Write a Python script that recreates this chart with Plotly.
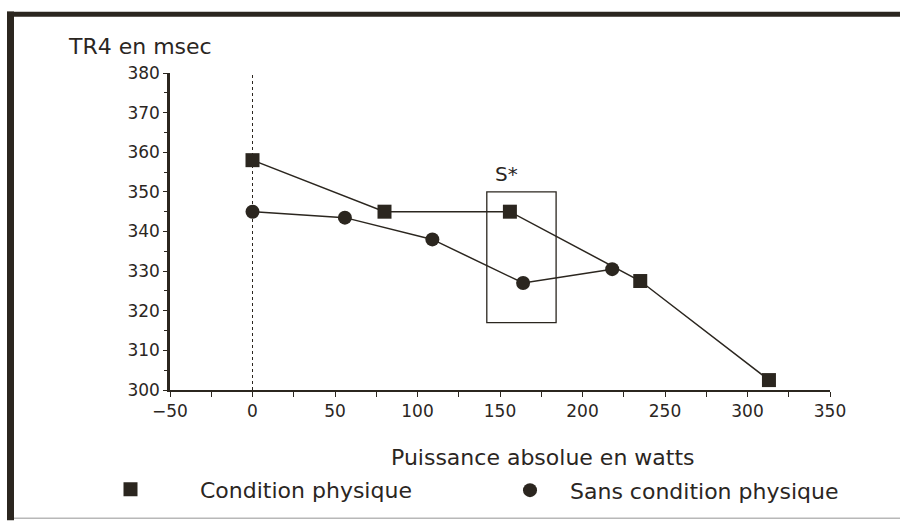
import plotly.graph_objects as go

# Data
cond_x = [0, 80, 156, 235, 313]
cond_y = [358, 345, 345, 327.5, 302.5]
sans_x = [0, 56, 109, 164, 218]
sans_y = [345, 343.5, 338, 327, 330.5]

cond_name = "Condition physique"
sans_name = "Sans condition physique"
x_title = "Puissance absolue en watts"
y_title = "TR4 en msec"
box_label = "S*"
box_x = [142, 184]
box_y = [317, 350]

INK = "#2b261f"
FONT = "DejaVu Sans"

# pixel geometry helpers
W, H = 900, 523
L, R, T, B = 170, 70, 73, 131
PW, PH = W - L - R, H - T - B


def px(xp):
    return (xp - L) / PW


def py(yp):
    return (H - B - yp) / PH


fig = go.Figure()
# connecting lines
for xs, ys in ((cond_x, cond_y), (sans_x, sans_y)):
    fig.add_trace(go.Scatter(
        x=xs, y=ys, mode="lines", line=dict(color=INK, width=1.5),
        showlegend=False, hoverinfo="skip", cliponaxis=False,
    ))
# markers (legend entries)
fig.add_trace(go.Scatter(
    x=cond_x, y=cond_y, name=cond_name, mode="markers",
    marker=dict(symbol="square", size=14, color=INK),
    cliponaxis=False, legend="legend", showlegend=True,
))
fig.add_trace(go.Scatter(
    x=sans_x, y=sans_y, name=sans_name, mode="markers",
    marker=dict(symbol="circle", size=14, color=INK),
    cliponaxis=False, legend="legend2", showlegend=True,
))

shapes = [
    dict(type="line", xref="x", yref="y", x0=0, x1=0, y0=300, y1=380,
         line=dict(color=INK, width=1, dash="dot"), layer="below"),
    dict(type="rect", xref="x", yref="y", x0=box_x[0], x1=box_x[1],
         y0=box_y[0], y1=box_y[1], line=dict(color=INK, width=1.3)),
    dict(type="line", xref="paper", yref="paper", x0=px(10.5), x1=px(10.5),
         y0=py(11), y1=py(523), line=dict(color=INK, width=7)),
    dict(type="line", xref="paper", yref="paper", x0=px(7), x1=px(900),
         y0=py(14), y1=py(14), line=dict(color=INK, width=5)),
    dict(type="line", xref="paper", yref="paper", x0=px(14), x1=px(900),
         y0=py(521), y1=py(521), line=dict(color="#b8b8b8", width=1.5)),
]

annotations = [
    dict(text=y_title, xref="paper", yref="paper", x=px(66), y=py(46),
         xanchor="left", yanchor="middle", showarrow=False,
         font=dict(family=FONT, size=22, color=INK)),
    dict(text=x_title, xref="paper", yref="paper", x=px(543), y=py(460),
         xanchor="center", yanchor="middle", showarrow=False,
         font=dict(family=FONT, size=22, color=INK)),
    dict(text=box_label, xref="x", yref="y", x=sum(box_x) / 2 - 9, y=box_y[1] + 1,
         xanchor="center", yanchor="bottom", showarrow=False,
         font=dict(family=FONT, size=20, color=INK)),
]

fig.update_layout(
    width=W, height=H,
    margin=dict(l=L, r=R, t=T, b=B, pad=0),
    paper_bgcolor="white", plot_bgcolor="white",
    font=dict(family=FONT, color=INK),
    showlegend=True,
    shapes=shapes, annotations=annotations,
    legend=dict(orientation="h", x=px(61), y=py(492), xanchor="left", yanchor="middle",
                bgcolor="rgba(0,0,0,0)", itemwidth=129,
                font=dict(family=FONT, size=22, color=INK)),
    legend2=dict(orientation="h", x=px(490), y=py(493), xanchor="left", yanchor="middle",
                 bgcolor="rgba(0,0,0,0)", itemwidth=70,
                 font=dict(family=FONT, size=22, color=INK)),
    xaxis=dict(range=[-50, 350], dtick=50, tick0=-50, showgrid=False, zeroline=False,
               showline=True, linecolor=INK, linewidth=2,
               ticks="outside", ticklen=5, tickwidth=1.3, tickcolor=INK,
               minor=dict(dtick=25, ticks="outside", ticklen=5, tickwidth=1.3, tickcolor=INK),
               tickfont=dict(family=FONT, size=17, color=INK)),
    yaxis=dict(range=[300, 380], dtick=10, showgrid=False, zeroline=False,
               showline=True, linecolor=INK, linewidth=2.5,
               ticks="outside", ticklen=4, tickwidth=1.3, tickcolor=INK,
               minor=dict(dtick=5, ticks="outside", ticklen=3, tickwidth=1, tickcolor=INK),
               tickfont=dict(family=FONT, size=17, color=INK)),
)

fig.write_html("out.html")
